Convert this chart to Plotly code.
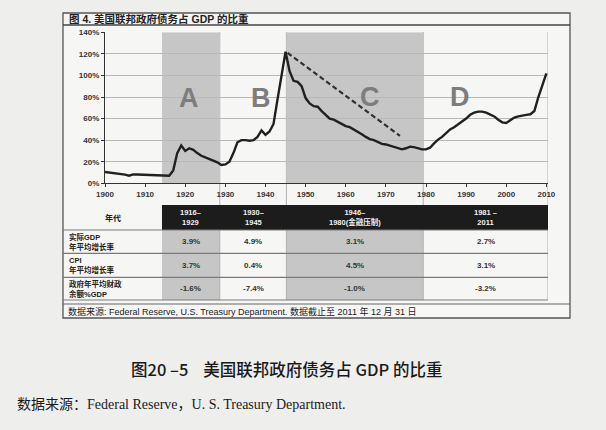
import plotly.graph_objects as go

W, H = 606, 430

years = list(range(1900, 2011))
debt_pct = [10.5, 10, 9.4, 9, 8.7, 8, 7, 8.3, 8.2, 8,
            7.8, 7.6, 7.5, 7.4, 7.3, 7.3, 7, 12, 28, 35,
            30, 32.5, 31, 28, 25.5, 24, 22.5, 21, 19.5, 17,
            17.5, 20, 28, 38, 40, 40, 39.5, 40, 43, 49,
            45, 48, 55, 78, 102, 122, 104, 95, 94, 90,
            79, 74, 71.5, 71, 67, 63, 60, 59, 57, 55,
            53, 52, 50, 48, 45.5, 43, 41, 40, 38, 36.5,
            36, 35, 34, 32.5, 31.5, 32.5, 34, 33.5, 32.5, 31.5,
            31.5, 33, 37, 40.5, 43, 47, 50, 52, 54.5, 57,
            60, 63.5, 65.5, 66.5, 66.5, 65.5, 64, 62, 59, 56.5,
            56, 58.5, 61, 62, 63, 63.5, 64, 67, 80, 92, 102]

# period boundaries (years)
band_edges = [1914.2, 1928.6, 1945.2, 1979.3, 2010.4]
band_letters = ["A", "B", "C", "D"]
letter_pos = [(1921, 79), (1939, 79), (1966, 80), (1988.5, 80)]

trend_x = [1945.5, 1973.5]
trend_y = [121, 44]

periods = ["1916–<br>1929", "1930–<br>1945", "1946–<br>1980(金融压制)", "1981 –<br>2011"]
row_labels = ["实际GDP<br>年平均增长率", "CPI<br>年平均增长率", "政府年平均财政<br>余额%GDP"]
gdp_growth = [3.9, 4.9, 3.1, 2.7]
cpi_growth = [3.7, 0.4, 4.5, 3.1]
fiscal_balance = [-1.6, -7.4, -1.0, -3.2]


def px(x):
    return x / W


def py(y):
    return 1 - y / H


sans = "Liberation Sans, Noto Sans CJK SC"
fig = go.Figure()
fig.add_trace(go.Scatter(x=years, y=debt_pct, mode="lines",
                         line=dict(color="#202020", width=2.4), showlegend=False))
fig.add_trace(go.Scatter(x=trend_x, y=trend_y, mode="lines",
                         line=dict(color="#303030", width=2.2, dash="5px,3px"), showlegend=False))

shapes = []
# outer frame and title divider
shapes.append(dict(type="rect", xref="paper", yref="paper", x0=px(63), x1=px(570),
                   y0=py(318), y1=py(13), line=dict(color="#555", width=1.3),
                   fillcolor="#f6f6f5", layer="below"))
shapes.append(dict(type="line", xref="paper", yref="paper", x0=px(63), x1=px(570),
                   y0=py(25), y1=py(25), line=dict(color="#444", width=1.5)))
shapes.append(dict(type="line", xref="paper", yref="paper", x0=px(63), x1=px(570),
                   y0=py(304), y1=py(304), line=dict(color="#666", width=1)))

# shaded bands A and C
for i in (0, 2):
    shapes.append(dict(type="rect", xref="x", yref="y", x0=band_edges[i], x1=band_edges[i + 1],
                       y0=0, y1=140, fillcolor="#c6c6c6", line=dict(width=0), layer="below"))

# table
rows = [205, 230, 253.3, 277.3, 300]
shapes.append(dict(type="rect", xref="x", yref="paper", x0=band_edges[0], x1=band_edges[-1],
                   y0=py(rows[1]), y1=py(rows[0]), fillcolor="#1c1c1c", line=dict(width=0)))
for i in (0, 2):
    shapes.append(dict(type="rect", xref="x", yref="paper", x0=band_edges[i], x1=band_edges[i + 1],
                       y0=py(rows[4]), y1=py(rows[1]), fillcolor="#c6c6c6", line=dict(width=0),
                       layer="below"))
for r in rows[1:]:
    shapes.append(dict(type="line", xref="paper", yref="paper", x0=px(63), x1=px(548),
                       y0=py(r), y1=py(r), line=dict(color="#7a7a7a", width=1.2)))
for e in band_edges[1:]:
    shapes.append(dict(type="line", xref="x", yref="paper", x0=e, x1=e,
                       y0=py(rows[4]), y1=py(32), line=dict(color="#b0b0b0", width=1),
                       layer="below"))

ann = []
ann.append(dict(text="<b>图 4. 美国联邦政府债务占 GDP 的比重</b>", xref="paper", yref="paper",
                x=px(67), y=py(19), xanchor="left", yanchor="middle", showarrow=False,
                font=dict(family=sans, size=10.5, color="#222")))
for letter, (lx, ly) in zip(band_letters, letter_pos):
    ann.append(dict(text="<b>%s</b>" % letter, x=lx, y=ly, xref="x", yref="y", showarrow=False,
                    xanchor="center", yanchor="middle",
                    font=dict(family="Liberation Sans", size=27, color="#7d7d7d")))

ann.append(dict(text="<b>年代</b>", xref="paper", yref="paper", x=px(113), y=py(217.5),
                xanchor="center", yanchor="middle",
                showarrow=False, font=dict(family=sans, size=8, color="#222")))
for i, p in enumerate(periods):
    cx = (band_edges[i] + band_edges[i + 1]) / 2
    ann.append(dict(text="<b>%s</b>" % p, xref="x", yref="paper", x=cx, y=py(217.5),
                    xanchor="center", yanchor="middle",
                    showarrow=False, font=dict(family=sans, size=7.5, color="#f0f0f0")))
    for j, vals in enumerate([gdp_growth, cpi_growth, fiscal_balance]):
        ym = (rows[j + 1] + rows[j + 2]) / 2
        ann.append(dict(text="<b>%.1f%%</b>" % vals[i], xref="x", yref="paper", x=cx, y=py(ym),
                        xanchor="center", yanchor="middle",
                        showarrow=False, font=dict(family=sans, size=8, color="#333")))
for j, lab in enumerate(row_labels):
    ym = (rows[j + 1] + rows[j + 2]) / 2
    ann.append(dict(text="<b>%s</b>" % lab, xref="paper", yref="paper", x=px(67), y=py(ym),
                    xanchor="left", yanchor="middle", align="left", showarrow=False,
                    font=dict(family=sans, size=7.5, color="#222")))

ann.append(dict(text="数据来源: Federal Reserve, U.S. Treasury Department. 数据截止至 2011 年 12 月 31 日",
                xref="paper", yref="paper", x=px(66), y=py(311), xanchor="left", yanchor="middle",
                showarrow=False, font=dict(family=sans, size=9, color="#222")))
ann.append(dict(text="图20 –5    美国联邦政府债务占 GDP 的比重", xref="paper", yref="paper",
                x=px(286), y=py(369), xanchor="center", yanchor="middle", showarrow=False,
                font=dict(family="Noto Sans CJK SC", size=16.5, color="#1a1a1a", weight=500)))
ann.append(dict(text="数据来源：Federal Reserve，U. S. Treasury Department.", xref="paper", yref="paper",
                x=px(15), y=py(404), xanchor="left", yanchor="middle", showarrow=False,
                font=dict(family="Liberation Serif, Noto Sans CJK SC", size=14, color="#1a1a1a")))

fig.update_layout(
    width=W, height=H, margin=dict(l=0, r=0, t=0, b=0, autoexpand=False),
    paper_bgcolor="#eeeeec", plot_bgcolor="rgba(0,0,0,0)",
    shapes=shapes, annotations=ann,
    xaxis=dict(domain=[px(105), px(548)], range=[1900, band_edges[-1]], automargin=False,
               tickvals=list(range(1900, 2011, 10)), showgrid=False,
               showline=True, linecolor="#333", linewidth=1.2, ticks="outside", ticklen=3,
               tickcolor="#333", tickfont=dict(family="Liberation Sans", size=8, color="#333", weight="bold")),
    yaxis=dict(domain=[py(183.3), py(32.3)], range=[0, 140], dtick=20, ticksuffix="%",
               automargin=False,
               showgrid=True, gridcolor="#b8b8b8", gridwidth=1, zeroline=False,
               showline=True, linecolor="#333", linewidth=1.2, ticks="outside", ticklen=3,
               tickcolor="#333", tickfont=dict(family="Liberation Sans", size=8, color="#333", weight="bold")),
)

# page margin off so the figure sits at the window's top-left corner
fig.write_html("out.html", config={"displayModeBar": False},
               post_script="document.body.style.margin='0';document.body.style.background='#eeeeec';")
